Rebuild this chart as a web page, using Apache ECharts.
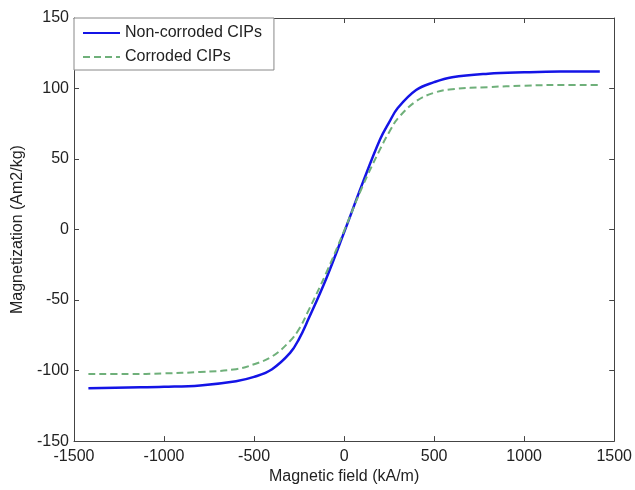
<!DOCTYPE html>
<html>
<head>
<meta charset="utf-8">
<script src="https://cdn.jsdelivr.net/npm/echarts@6/dist/echarts.min.js"></script>
<style>
  html, body { margin: 0; padding: 0; background: #fff; }
  #chart { width: 635px; height: 490px; }
</style>
</head>
<body>
<div id="chart"></div>
<script>
// magnetic field (kA/m)
const field = [-1420, -1200, -1000, -800, -600, -500, -400, -300, -250, -200, -100, 0,
  100, 200, 250, 300, 400, 500, 600, 800, 1000, 1200, 1420]
// magnetization (Am2/kg)
const nonCorroded = [-112.5, -112, -111.5, -110.5, -107.5, -104.5, -99, -87.5, -77.5, -64, -35, -2,
  32, 64, 76, 86.5, 99, 104.5, 108, 110.5, 111.5, 112, 112]
const corroded = [-102.5, -102.5, -102, -101, -99, -95.5, -90, -79, -70.5, -58, -31, -1,
  30, 57, 69, 79, 91, 97, 99.5, 101, 102, 102.5, 102.5]

const font = 'Liberation Sans, Arial, sans-serif'

function pairs(xs, ys) {
  return xs.map((x, i) => [x, ys[i]])
}

let myChart = echarts.init(document.getElementById('chart'))

const axisLine = {show: true, onZero: false, lineStyle: {color: '#444', width: 1}}
const axisTick = {show: true, inside: true, length: 5, lineStyle: {color: '#444'}}
const plain = v => String(v)

myChart.setOption({
  animation: false,
  grid: {
    left: 74,
    right: 19,
    top: 18,
    bottom: 43
  },
  legend: {
    left: 74,
    top: 18,
    orient: 'vertical',
    backgroundColor: '#fff',
    borderColor: '#888',
    borderWidth: 1,
    padding: [6, 12, 4, 8],
    itemWidth: 37,
    itemHeight: 14,
    itemGap: 6,
    itemStyle: {opacity: 0},
    textStyle: {fontFamily: font, fontSize: 16, color: '#222', lineHeight: 18},
    data: ['Non-corroded CIPs', 'Corroded CIPs']
  },
  xAxis: [{
    type: 'value',
    min: -1500,
    max: 1500,
    interval: 500,
    name: 'Magnetic field (kA/m)',
    nameLocation: 'middle',
    nameGap: 26,
    nameTextStyle: {fontFamily: font, fontSize: 16, color: '#222'},
    axisLabel: {fontFamily: font, fontSize: 16, color: '#222', margin: 7, formatter: plain},
    axisLine: axisLine,
    axisTick: axisTick,
    splitLine: {show: false}
  }, {
    type: 'value',
    position: 'top',
    min: -1500,
    max: 1500,
    interval: 500,
    axisLabel: {show: false},
    axisLine: axisLine,
    axisTick: axisTick,
    splitLine: {show: false}
  }],
  yAxis: [{
    type: 'value',
    min: -150,
    max: 150,
    interval: 50,
    name: 'Magnetization (Am2/kg)',
    nameLocation: 'middle',
    nameGap: 44,
    nameTextStyle: {fontFamily: font, fontSize: 16, color: '#222'},
    axisLabel: {fontFamily: font, fontSize: 16, color: '#222', margin: 5, formatter: plain},
    axisLine: axisLine,
    axisTick: axisTick,
    splitLine: {show: false}
  }, {
    type: 'value',
    position: 'right',
    min: -150,
    max: 150,
    interval: 50,
    axisLabel: {show: false},
    axisLine: axisLine,
    axisTick: axisTick,
    splitLine: {show: false}
  }],
  series: [{
    name: 'Non-corroded CIPs',
    type: 'line',
    smooth: 0.4,
    symbol: 'none',
    lineStyle: {color: '#1414e6', width: 2.5},
    itemStyle: {color: '#1414e6'},
    data: pairs(field, nonCorroded)
  }, {
    name: 'Corroded CIPs',
    type: 'line',
    smooth: 0.4,
    symbol: 'none',
    lineStyle: {color: '#6fb07a', width: 2, type: [7, 4]},
    itemStyle: {color: '#6fb07a'},
    data: pairs(field, corroded)
  }]
})
</script>
</body>
</html>
